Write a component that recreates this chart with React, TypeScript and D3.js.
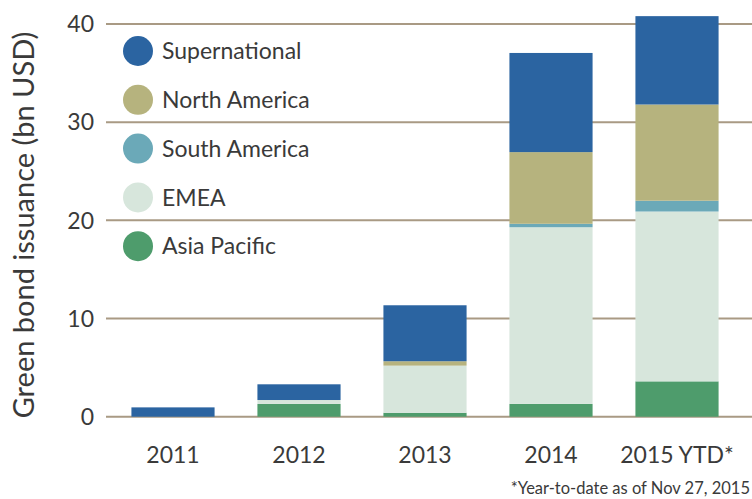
import React, { useEffect, useRef } from 'react';
import * as d3 from 'd3';

// Green bond issuance by region, bn USD
const years = ['2011', '2012', '2013', '2014', '2015 YTD*'];
const seriesNames = ['Supernational', 'North America', 'South America', 'EMEA', 'Asia Pacific'];
const asiaPacific = [0, 1.3, 0.4, 1.3, 3.6];
const emea = [0, 0.4, 4.8, 18.0, 17.3];
const southAmerica = [0, 0, 0, 0.35, 1.1];
const northAmerica = [0, 0, 0.45, 7.3, 9.8];
const supernational = [0.95, 1.6, 5.7, 10.1, 9.0];
const yTicks = [0, 10, 20, 30, 40];

const colors: Record<string, string> = {
  'Supernational': '#2b64a1',
  'North America': '#b6b37e',
  'South America': '#6ba9b8',
  'EMEA': '#d7e6dc',
  'Asia Pacific': '#4e9c6c',
};

const W = 752;
const H = 499;
const FONT = 'Lato, "Open Sans", sans-serif';

const App = () => {
  const svgRef = useRef<SVGSVGElement>(null);

  useEffect(() => {
    const svg = d3.select(svgRef.current);
    svg.selectAll('*').remove();

    const rows = years.map((y, i) => ({
      year: y,
      'Asia Pacific': asiaPacific[i],
      'EMEA': emea[i],
      'South America': southAmerica[i],
      'North America': northAmerica[i],
      'Supernational': supernational[i],
    }));

    // stack from bottom: Asia Pacific first
    const stackKeys = [...seriesNames].reverse();
    const stacked = d3.stack<any>().keys(stackKeys)(rows);

    const x = d3.scaleBand()
      .domain(years)
      .range([110, 740])
      .paddingInner(0.34)
      .paddingOuter(0.17);

    const y = d3.scaleLinear()
      .domain([0, 40])
      .range([416.7, 24]);

    // gridlines
    svg.append('g')
      .selectAll('line')
      .data(yTicks)
      .enter()
      .append('line')
      .attr('x1', 106)
      .attr('x2', W)
      .attr('y1', d => y(d))
      .attr('y2', d => y(d))
      .attr('stroke', '#a99a84')
      .attr('stroke-width', 2);

    // tick labels
    svg.append('g')
      .selectAll('text')
      .data(yTicks)
      .enter()
      .append('text')
      .attr('x', 94)
      .attr('y', d => y(d))
      .attr('dy', '0.36em')
      .attr('text-anchor', 'end')
      .attr('font-family', FONT)
      .attr('font-size', 23)
      .attr('fill', '#3a3a3a')
      .text(d => d);

    // bars
    svg.append('g')
      .selectAll('g')
      .data(stacked)
      .enter()
      .append('g')
      .attr('fill', d => colors[d.key])
      .selectAll('rect')
      .data(d => d)
      .enter()
      .append('rect')
      .attr('x', d => x(d.data.year) || 0)
      .attr('width', x.bandwidth())
      .attr('y', d => y(d[1]))
      .attr('height', d => y(d[0]) - y(d[1]));

    // x labels
    svg.append('g')
      .selectAll('text')
      .data(years)
      .enter()
      .append('text')
      .attr('x', d => (x(d) || 0) + x.bandwidth() / 2)
      .attr('y', 463)
      .attr('text-anchor', 'middle')
      .attr('font-family', FONT)
      .attr('font-size', 23)
      .attr('fill', '#3a3a3a')
      .text(d => d);

    // legend
    const legend = svg.append('g')
      .selectAll('g')
      .data(seriesNames)
      .enter()
      .append('g')
      .attr('transform', (d, i) => `translate(138,${51 + i * 48.8})`);
    legend.append('circle')
      .attr('r', 15)
      .attr('fill', d => colors[d]);
    legend.append('text')
      .attr('x', 24)
      .attr('dy', '0.36em')
      .attr('font-family', FONT)
      .attr('font-size', 23)
      .attr('fill', '#3a3a3a')
      .text(d => d);

    // y title
    svg.append('text')
      .attr('transform', `translate(34,225) rotate(-90)`)
      .attr('text-anchor', 'middle')
      .attr('font-family', FONT)
      .attr('font-size', 29)
      .attr('fill', '#3a3a3a')
      .text('Green bond issuance (bn USD)');

    // footnote
    svg.append('text')
      .attr('x', 750)
      .attr('y', 494)
      .attr('text-anchor', 'end')
      .attr('font-family', FONT)
      .attr('font-size', 16.5)
      .attr('fill', '#3a3a3a')
      .text('*Year-to-date as of Nov 27, 2015');
  }, []);

  return (
    <div style={{ position: 'absolute', left: 0, top: 0, width: W, height: H, background: '#fff' }}>
      <svg ref={svgRef} width={W} height={H} />
    </div>
  );
};

export default App;
